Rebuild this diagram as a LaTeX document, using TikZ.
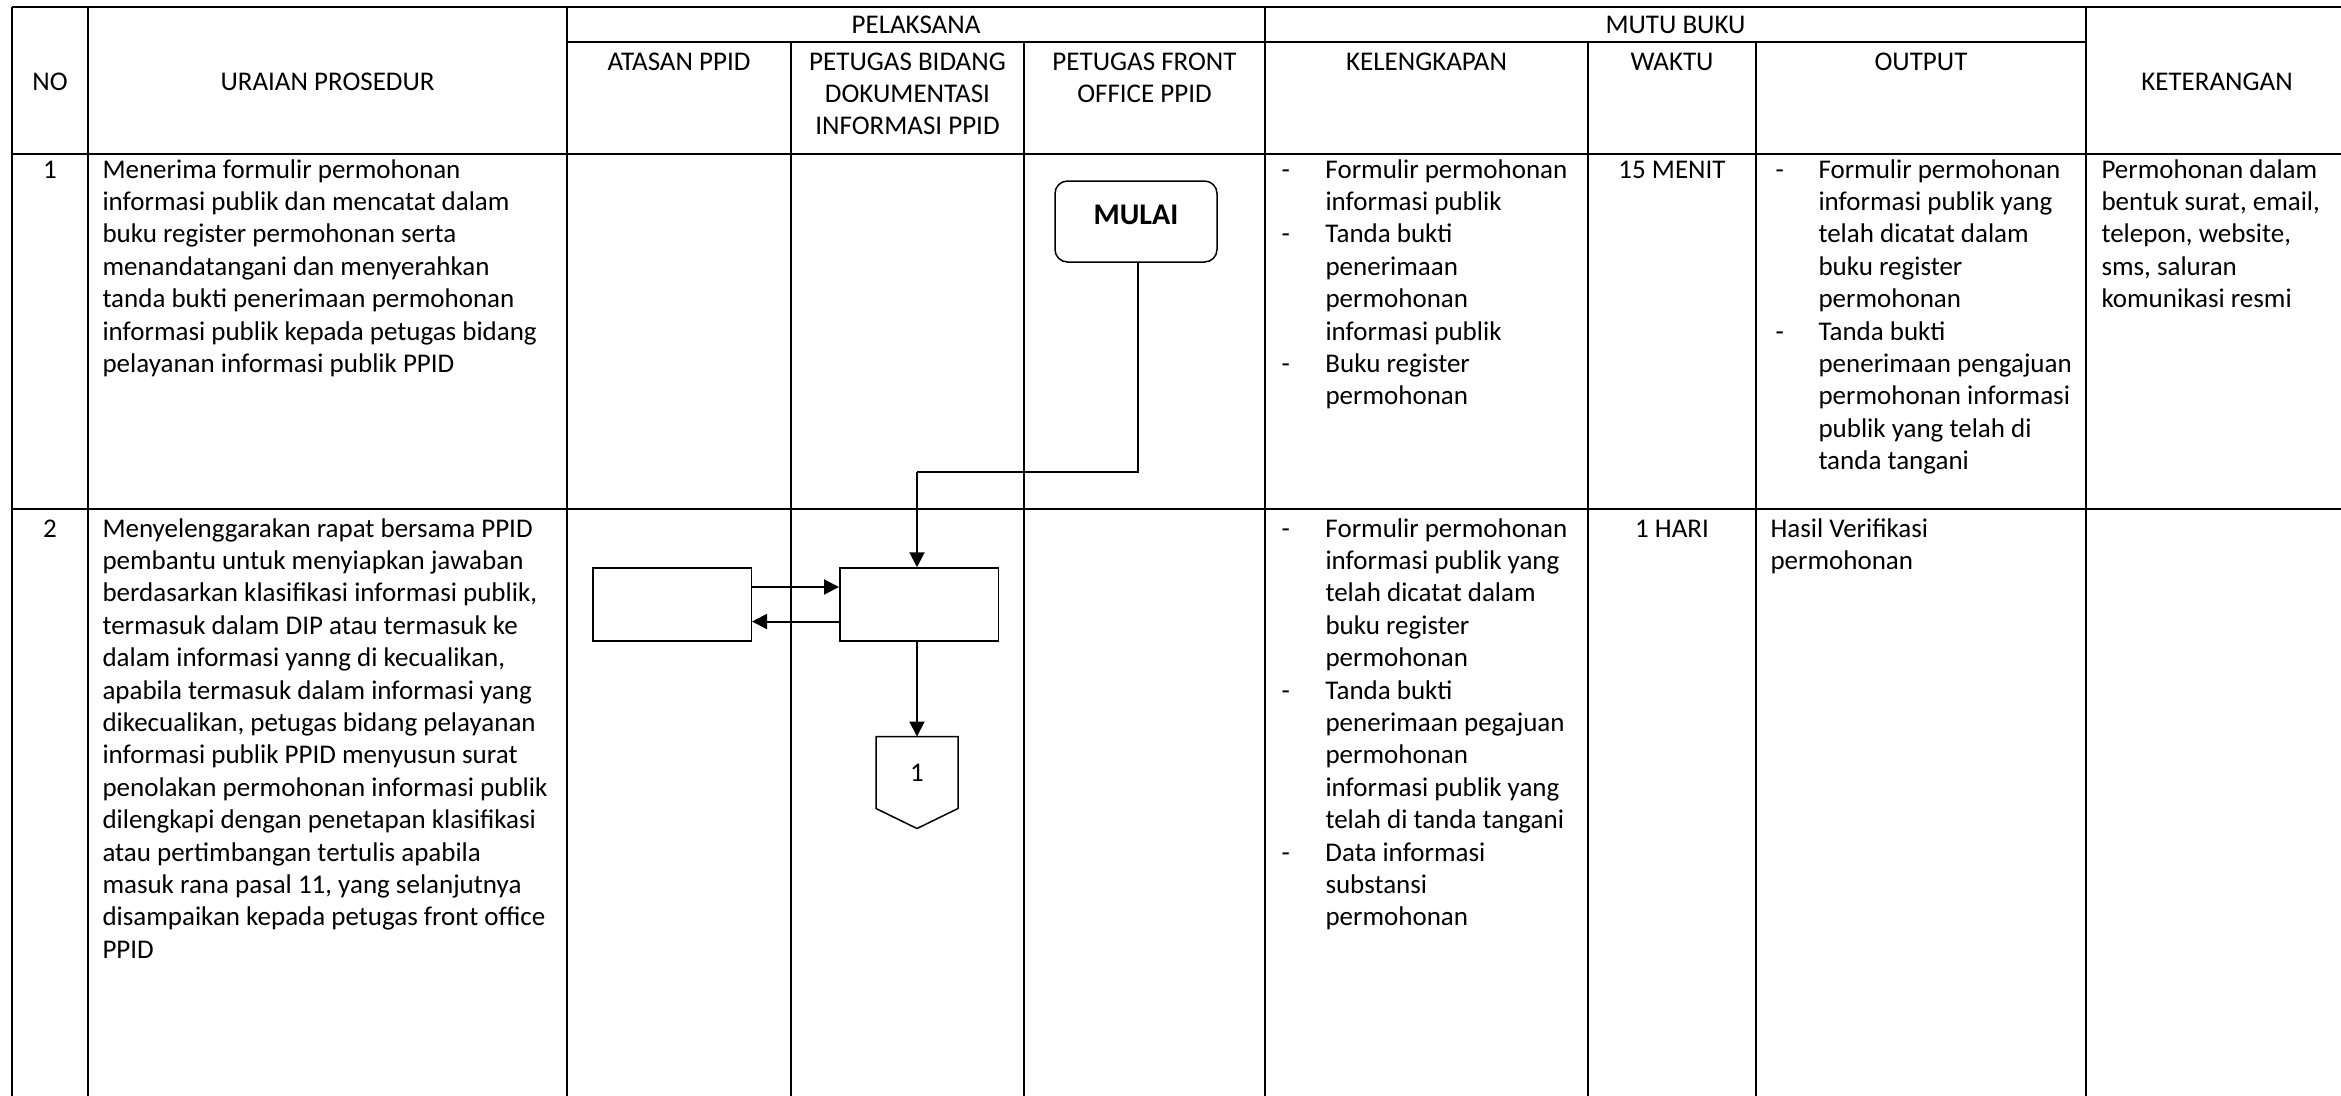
\documentclass[tikz,border=0pt]{standalone}
\usepackage{fontspec}
\setmainfont{Carlito}
\usetikzlibrary{arrows.meta,positioning,calc}

\begin{document}
\begin{tikzpicture}[x=0.4pt,y=-0.4pt,
    hline/.style={line width=0.9pt},
    vline/.style={line width=0.7pt},
    head/.style={anchor=base,inner sep=0pt,font=\fontsize{10.8}{12.96}\selectfont},
    cell/.style={anchor=base west,inner sep=0pt,font=\fontsize{10.8}{12.96}\selectfont},
    mid/.style={anchor=base,inner sep=0pt,font=\fontsize{10.8}{12.96}\selectfont},
    startbox/.style={draw,line width=0.6pt,rounded corners=5pt,minimum width=64.8pt,minimum height=32.4pt,
      inner sep=0pt,text height=7.6pt,text depth=5.6pt,font=\fontsize{12}{14}\selectfont\bfseries},
    procbox/.style={draw,line width=0.6pt,minimum width=63.4pt,minimum height=29.2pt,inner sep=0pt},
    offpage/.style={minimum width=32.4pt,minimum height=28.4pt,inner sep=0pt,font=\fontsize{10.8}{12.96}\selectfont},
    flow/.style={line width=0.8pt,-{Triangle[length=6pt,width=6pt]}}]
  % Define dimensions
  \def\TopY{7}
  \def\MidY{42}
  \def\HeadY{154}
  \def\RowY{509}
  \def\EndY{1110}
  \useasboundingbox (0,0) rectangle (2341,1095);
  \clip (0,0) rectangle (2341,1095);

  % Draw grid
  \foreach \x in {12,88,567,1265,2086,2348}
    \draw[vline] (\x,\TopY) -- (\x,\EndY);
  \foreach \x in {791,1024,1588,1756}
    \draw[vline] (\x,\MidY) -- (\x,\EndY);
  \foreach \y in {\TopY,\HeadY,\RowY}
    \draw[hline] (12,\y) -- (2348,\y);
  \draw[hline] (567,\MidY) -- (2086,\MidY);

  % Header
  \node[head] (no-h) at (50,90) {NO};
  \node[head] (uraian-h) at (327.5,90) {URAIAN PROSEDUR};
  \node[head] (pelaksana-h) at (916,33) {PELAKSANA};
  \node[head] (mutu-h) at (1675.5,33) {MUTU BUKU};
  \node[head] (atasan-h) at (679,70) {ATASAN PPID};
  \node[head] (bidang-h) at (907.5,70) {\begin{tabular}[t]{@{}c@{}}PETUGAS BIDANG\\DOKUMENTASI\\INFORMASI PPID\end{tabular}};
  \node[head] (front-h) at (1144.5,70) {\begin{tabular}[t]{@{}c@{}}PETUGAS FRONT\\OFFICE PPID\end{tabular}};
  \node[head] (kel-h) at (1426.5,70) {KELENGKAPAN};
  \node[head] (waktu-h) at (1672,70) {WAKTU};
  \node[head] (output-h) at (1921,70) {OUTPUT};
  \node[head] (ket-h) at (2217,90) {KETERANGAN};

  % Row 1
  \node[mid] (no1) at (50,178) {1};
  \node[cell] (uraian1) at (102,178) {\begin{tabular}[t]{@{}l@{}}Menerima formulir permohonan\\
    informasi publik dan mencatat dalam\\
    buku register permohonan serta\\
    menandatangani dan menyerahkan\\
    tanda bukti penerimaan permohonan\\
    informasi publik kepada petugas bidang\\
    pelayanan informasi publik PPID\end{tabular}};
  \node[cell] (kel1) at (1281,178) {\begin{tabular}[t]{@{}p{17.6pt}@{}l@{}}
    -&Formulir permohonan\\ &informasi publik\\
    -&Tanda bukti\\ &penerimaan\\ &permohonan\\ &informasi publik\\
    -&Buku register\\ &permohonan\end{tabular}};
  \node[mid] (waktu1) at (1672,178) {15 MENIT};
  \node[cell] (output1) at (1775,178) {\begin{tabular}[t]{@{}p{17.2pt}@{}l@{}}
    -&Formulir permohonan\\ &informasi publik yang\\ &telah dicatat dalam\\
     &buku register\\ &permohonan\\
    -&Tanda bukti\\ &penerimaan pengajuan\\ &permohonan informasi\\
     &publik yang telah di\\ &tanda tangani\end{tabular}};
  \node[cell] (ket1) at (2101,178) {\begin{tabular}[t]{@{}l@{}}Permohonan dalam\\bentuk surat, email,\\
    telepon, website,\\sms, saluran\\komunikasi resmi\end{tabular}};

  % Row 2
  \node[mid] (no2) at (50,537) {2};
  \node[cell] (uraian2) at (102,537) {\begin{tabular}[t]{@{}l@{}}Menyelenggarakan rapat bersama PPID\\
    pembantu untuk menyiapkan jawaban\\
    berdasarkan klasifikasi informasi publik,\\
    termasuk dalam DIP atau termasuk ke\\
    dalam informasi yanng di kecualikan,\\
    apabila termasuk dalam informasi yang\\
    dikecualikan, petugas bidang pelayanan\\
    informasi publik PPID menyusun surat\\
    penolakan permohonan informasi publik\\
    dilengkapi dengan penetapan klasifikasi\\
    atau pertimbangan tertulis apabila\\
    masuk rana pasal 11, yang selanjutnya\\
    disampaikan kepada petugas front office\\
    PPID\end{tabular}};
  \node[cell] (kel2) at (1281,537) {\begin{tabular}[t]{@{}p{17.6pt}@{}l@{}}
    -&Formulir permohonan\\ &informasi publik yang\\ &telah dicatat dalam\\
     &buku register\\ &permohonan\\
    -&Tanda bukti\\ &penerimaan pegajuan\\ &permohonan\\
     &informasi publik yang\\ &telah di tanda tangani\\
    -&Data informasi\\ &substansi\\ &permohonan\end{tabular}};
  \node[mid] (waktu2) at (1672,537) {1 HARI};
  \node[cell] (output2) at (1770,537) {\begin{tabular}[t]{@{}l@{}}Hasil Verifikasi\\permohonan\end{tabular}};

  % Flow
  \node[startbox] (mulai) at (1136,221.5) {MULAI};
  \node[procbox] (atasan) at (672,604.5) {};
  \node[procbox] (verif) at (919,604.5) {};
  \node[offpage] (conn1) at (917,772.5) {1};
  \draw[line width=0.6pt] (conn1.north west) -- (conn1.north east) -- (conn1.south east)
    -- ($(conn1.south)+(0,20)$) -- (conn1.south west) -- cycle;

  \coordinate (elbow) at (1138,472);
  \coordinate (drop) at (917,472);
  \draw[line width=0.8pt] (elbow |- mulai.south) -- (elbow) -- (drop);
  \draw[flow] (drop) -- (drop |- verif.north);
  \draw[flow] ([yshift=7pt]atasan.east) -- ([yshift=7pt]verif.west);
  \draw[flow] ([yshift=-6.8pt]verif.west) -- ([yshift=-6.8pt]atasan.east);
  \draw[flow] (drop |- verif.south) -- (conn1.north);
\end{tikzpicture}
\end{document}
